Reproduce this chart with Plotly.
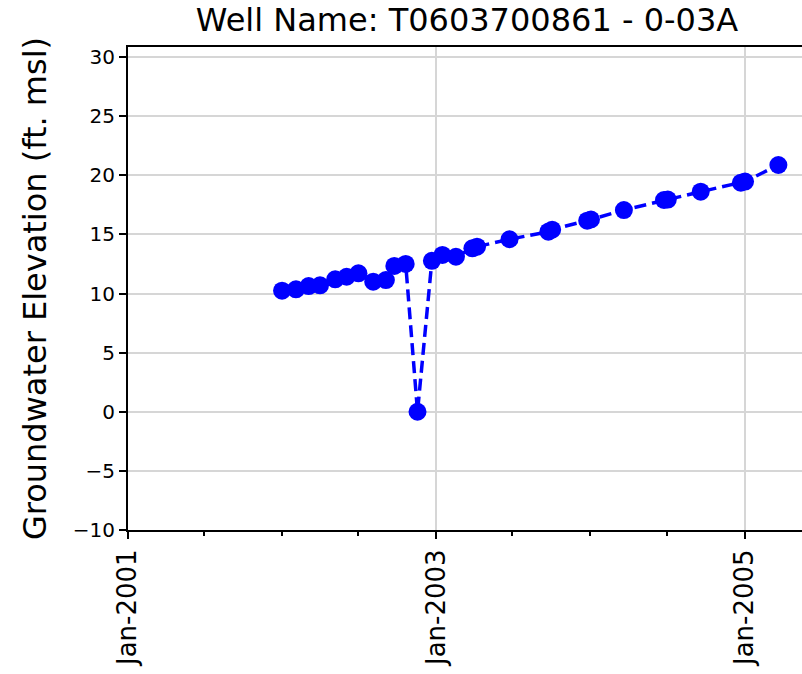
import plotly.graph_objects as go

# Groundwater level readings for the well
dates = [
    "2002-01-01", "2002-02-03", "2002-03-05", "2002-04-01", "2002-05-07",
    "2002-06-03", "2002-07-01", "2002-08-05", "2002-09-04", "2002-09-24",
    "2002-10-21", "2002-11-18", "2002-12-22", "2003-01-16", "2003-02-17",
    "2003-03-28", "2003-04-08", "2003-06-24", "2003-09-24", "2003-10-03",
    "2003-12-25", "2004-01-03", "2004-03-21", "2004-06-24", "2004-07-03",
    "2004-09-19", "2004-12-23", "2005-01-02", "2005-03-22",
]
elevation = [
    10.24, 10.36, 10.63, 10.69, 11.20,
    11.42, 11.71, 11.00, 11.14, 12.33,
    12.50, 0.00, 12.77, 13.26, 13.11,
    13.82, 13.96, 14.59, 15.23, 15.40,
    16.16, 16.26, 17.06, 17.91, 17.95,
    18.61, 19.37, 19.47, 20.87,
]
well_name = "T0603700861 - 0-03A"

font_family = "DejaVu Sans"

fig = go.Figure()
fig.add_trace(go.Scatter(
    x=dates,
    y=elevation,
    mode="lines+markers",
    line=dict(color="#0000ff", width=3.5, dash="12px,6px"),
    marker=dict(color="#0000ff", size=18),
    showlegend=False,
))

fig.update_layout(
    width=802,
    height=674,
    paper_bgcolor="white",
    plot_bgcolor="white",
    margin=dict(l=128, r=0, t=47, b=144),
    font=dict(family=font_family, color="black"),
    title=dict(
        text=f"Well Name: {well_name}",
        font=dict(size=32, family=font_family, color="black"),
        x=0.503, xref="paper", xanchor="center",
        y=0.970, yref="container", yanchor="middle",
    ),
    xaxis=dict(
        type="date",
        range=["2001-01-01", "2005-05-17"],
        tick0="2001-01-01",
        dtick="M24",
        tickformat="%b-%Y",
        tickangle=-90,
        ticks="outside",
        ticklen=7,
        tickwidth=1.5,
        tickcolor="black",
        tickfont=dict(size=26, family=font_family),
        showgrid=True,
        gridcolor="#d6d6d6",
        gridwidth=1.5,
        showline=True,
        linecolor="black",
        linewidth=2,
        mirror=True,
        zeroline=False,
        minor=dict(dtick="M6", tick0="2001-01-01", ticks="outside",
                   ticklen=4, tickcolor="black", showgrid=False),
    ),
    yaxis=dict(
        range=[-10, 30.85],
        tick0=-10,
        dtick=5,
        ticks="outside",
        ticklen=7,
        tickwidth=1.5,
        tickcolor="black",
        tickfont=dict(size=20, family=font_family),
        showgrid=True,
        gridcolor="#d6d6d6",
        gridwidth=1.5,
        showline=True,
        linecolor="black",
        linewidth=2,
        mirror=False,
        zeroline=False,
        title=dict(text="Groundwater Elevation (ft. msl)",
                   font=dict(size=32, family=font_family), standoff=17),
    ),
)

# drop the page's default body margin so the figure sits at the top-left corner
fig.write_html(
    "out.html",
    config={"displayModeBar": False},
    post_script="document.body.style.margin='0px';",
)
